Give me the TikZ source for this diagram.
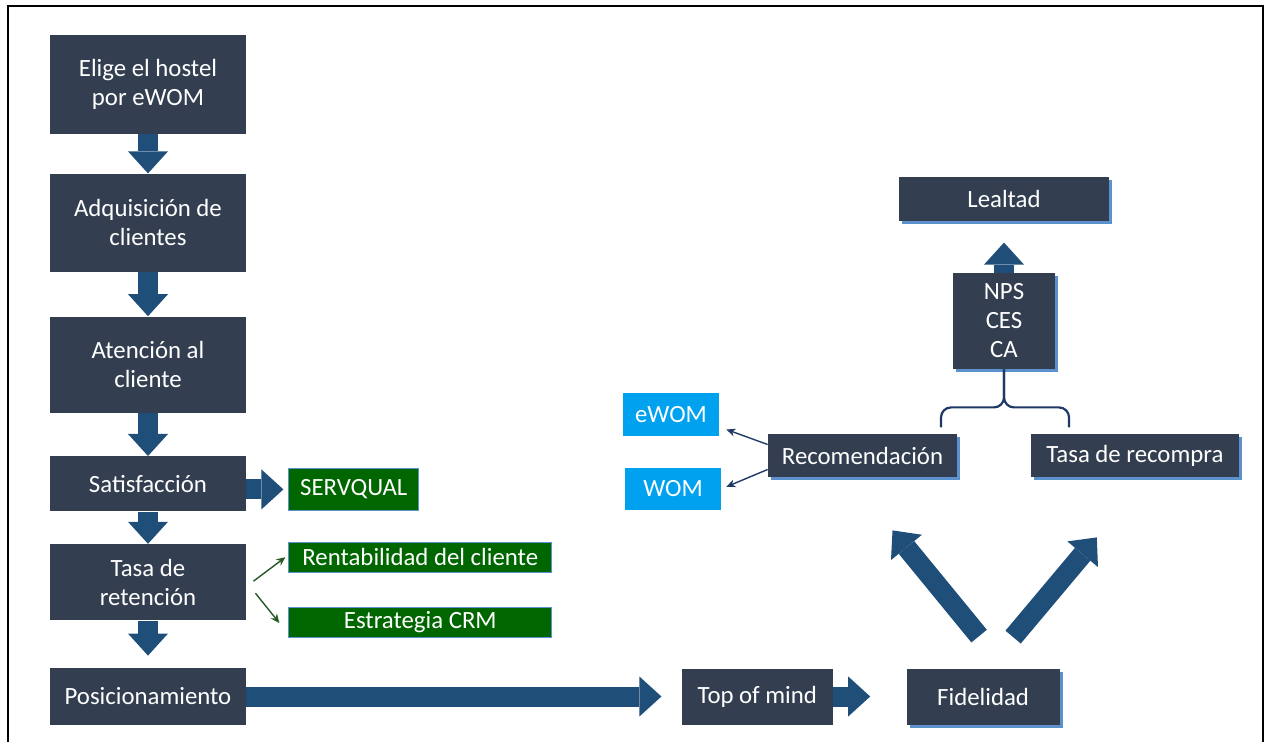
\documentclass[tikz,border=0pt]{standalone}
\usepackage{fontspec}
\setmainfont{Carlito}
\usetikzlibrary{arrows.meta}
\usetikzlibrary{positioning}
\usetikzlibrary{shadows}
\definecolor{boxdark}{RGB}{51,63,80}
\definecolor{shadowblue}{RGB}{91,145,205}
\definecolor{arrowblue}{RGB}{31,78,121}
\definecolor{servgreen}{RGB}{0,102,0}
\definecolor{womblue}{RGB}{0,162,240}
\definecolor{bracenavy}{RGB}{31,56,100}
\definecolor{leafgreen}{RGB}{40,90,40}

\begin{document}
\begin{tikzpicture}[x=0.5pt, y=-0.5pt,
    stagebox/.style={fill=boxdark, text=white, align=center, inner sep=2pt,
        font=\fontsize{12.4pt}{14.5pt}\selectfont},
    colbox/.style={stagebox, minimum width=98pt},
    shadowed/.style={drop shadow={shadow xshift=1.5pt, shadow yshift=-1.5pt,
        fill=shadowblue, opacity=1}},
    tagbox/.style={fill=servgreen, draw=shadowblue, line width=0.4pt, text=white,
        inner sep=1pt, font=\fontsize{12.4pt}{14.5pt}\selectfont},
    wombox/.style={fill=womblue, text=white, inner sep=1pt,
        font=\fontsize{12.4pt}{14.5pt}\selectfont},
    blockarrow/.style={draw=arrowblue, line width=10pt,
        -{Triangle[width=20pt,length=11pt,line width=0pt]}},
    smallarrow/.style={line width=0.7pt, -{Stealth[length=4.5pt,width=4pt]}},
    bracket/.style={draw=bracenavy, line width=1.1pt, rounded corners=5pt}]

        \useasboundingbox (0,0) rectangle (1267,742);
        \draw[line width=1.2pt] (8,742) -- (8,6) -- (1263,6) -- (1263,742);

        % left column
        \node[colbox, minimum height=49.5pt] (elige) at (148,84.5) {Elige el hostel\\por eWOM};
        \node[colbox, minimum height=49pt, below=19.5pt of elige] (adq) {Adquisición de\\clientes};
        \node[colbox, minimum height=48pt, below=22pt of adq] (aten) {Atención al\\cliente};
        \node[colbox, minimum height=27.5pt, below=21.5pt of aten] (satis) {Satisfacción};
        \node[colbox, minimum height=38pt, below=16pt of satis] (tasa) {Tasa de\\retención};
        \node[colbox, minimum height=28.5pt, below=23.5pt of tasa] (posic) {Posicionamiento};

        \path (elige) edge[blockarrow] (adq);
        \path (adq) edge[blockarrow] (aten);
        \path (aten) edge[blockarrow] (satis);
        \path (satis) edge[blockarrow] (tasa);
        \path (tasa) edge[blockarrow, shorten >=6pt] (posic);

        \node[tagbox, minimum width=65pt, minimum height=21pt, right=21pt of satis, yshift=-2.75pt] (servqual) {SERVQUAL};
        \node[tagbox, minimum width=131.5pt, minimum height=15pt, right=21pt of tasa, yshift=12.5pt] (renta) {Rentabilidad del cliente};
        \node[tagbox, minimum width=131.5pt, minimum height=15pt, below=17pt of renta] (crm) {Estrategia CRM};

        \path (satis.east |- servqual.west) edge[blockarrow, shorten >=2.5pt] (servqual.west);
        \draw[leafgreen, smallarrow] ([shift={(7,-1)}]tasa.east) -- ([shift={(-3,0)}]renta.west);
        \draw[leafgreen, smallarrow] ([shift={(9,11)}]tasa.east) -- ([shift={(-9,1)}]crm.west);

        % bottom row
        \node[stagebox, minimum width=75.5pt, minimum height=28pt, right=217.5pt of posic] (top) {Top of mind};
        \node[stagebox, shadowed, minimum width=76.5pt, minimum height=28pt, right=36.5pt of top] (fid) {Fidelidad};

        \path (posic) edge[blockarrow, shorten >=10pt] (top);
        \path (top) edge[blockarrow, shorten >=18pt] (fid);

        % right cluster
        \node[stagebox, shadowed, minimum width=94.5pt, minimum height=21.5pt] (recom) at (862.5,455.5) {Recomendación};
        \node[stagebox, shadowed, minimum width=104pt, minimum height=21.5pt, right=36.5pt of recom] (recomp) {Tasa de recompra};
        \node[stagebox, shadowed, minimum width=51pt, minimum height=48pt] (nps) at (1004,321) {NPS\\CES\\CA};
        \node[stagebox, shadowed, minimum width=105pt, minimum height=22pt, above=25.5pt of nps] (lealtad) {Lealtad};

        \node[wombox, minimum width=48pt, minimum height=21.5pt] (ewom) at (671,414.5) {eWOM};
        \node[wombox, minimum width=48pt, minimum height=21pt, below=15.5pt of ewom, xshift=1pt] (wom) {WOM};

        \draw[bracenavy, smallarrow] ([shift={(0,-11)}]recom.west) -- ([shift={(7,15)}]ewom.east);
        \draw[bracenavy, smallarrow] ([shift={(0,14)}]recom.west) -- ([shift={(5,-2)}]wom.east);

        \path ([shift={(-4,-32)}]fid.north) edge[blockarrow] ([shift={(30,53)}]recom.south);
        \path ([shift={(30,-31)}]fid.north) edge[blockarrow] ([shift={(-38,60)}]recomp.south);
        \path (nps) edge[blockarrow, shorten >=10.5pt] (lealtad);

        \draw[bracket] ([shift={(-63,58)}]nps.south) |- ([shift={(0,38)}]nps.south) -- (nps.south);
        \draw[bracket] ([shift={(65,58)}]nps.south) |- ([shift={(0,38)}]nps.south) -- (nps.south);
    \end{tikzpicture}
\end{document}
